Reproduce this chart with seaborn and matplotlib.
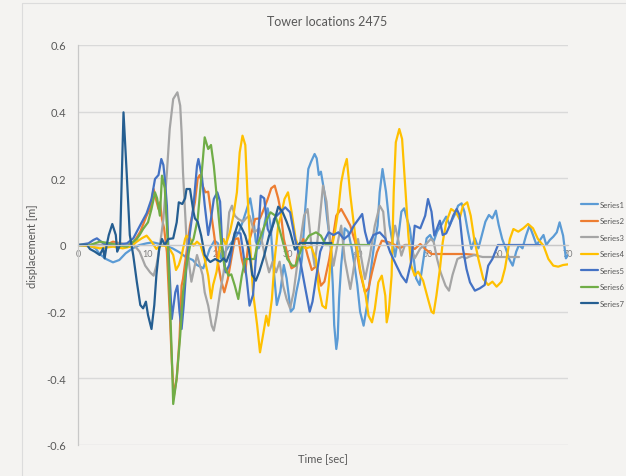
import matplotlib
matplotlib.use("Agg")
import matplotlib.pyplot as plt
from matplotlib import font_manager
import pandas as pd
import seaborn as sns

# (time [s], displacement [m]) samples for each tower record
SERIES1 = [(0, 0), (1.5, 0), (2.5, -0.01), (3.1, -0.027), (4.0, -0.042), (5.0, -0.052), (5.9, -0.045),
           (6.8, -0.025), (7.8, -0.01), (8.8, 0), (9.8, 0.005), (10.7, 0.008), (11.7, 0.003), (12.6, -0.003),
           (13.5, -0.01), (14.5, -0.022), (15.4, -0.036), (16.4, -0.045), (17.0, -0.06), (17.9, -0.07),
           (18.8, -0.012), (19.5, 0.013), (20.0, 0.005), (20.4, -0.04), (20.9, -0.025), (21.6, -0.002),
           (22.3, 0.018), (23.0, 0.04), (23.5, 0.068), (24.0, 0.1), (24.6, 0.14), (25.0, 0.09), (25.4, 0.01),
           (25.8, -0.01), (26.3, 0.018), (26.7, 0.07), (27.1, 0.11), (27.5, 0.06), (27.9, -0.06), (28.4, -0.18),
           (28.9, -0.14), (29.4, -0.06), (29.8, -0.1), (30.4, -0.2), (30.8, -0.19), (31.2, -0.14), (31.6, -0.1),
           (32.0, -0.04), (32.4, 0.09), (32.9, 0.228), (33.3, 0.25), (33.8, 0.273), (34.1, 0.26), (34.4, 0.21),
           (34.7, 0.22), (35.2, 0.158), (35.6, 0.078), (36.1, -0.002), (36.4, -0.12), (36.6, -0.24),
           (36.9, -0.312), (37.1, -0.28), (37.3, -0.16), (37.6, -0.06), (38.1, 0.05), (38.6, 0.04), (39.1, -0.01),
           (39.5, -0.06), (39.9, -0.12), (40.3, -0.2), (40.8, -0.242), (41.3, -0.18), (41.8, -0.082), (42.3, 0.0),
           (42.8, 0.058), (43.1, 0.158), (43.5, 0.228), (44.0, 0.16), (44.5, 0.06), (45.0, 0.0), (45.3, -0.035),
           (45.8, 0.03), (46.2, 0.1), (46.6, 0.11), (47.0, 0.078), (47.4, 0.05), (47.9, -0.03), (48.3, -0.1),
           (48.8, -0.12), (49.3, -0.05), (49.8, 0.02), (50.3, 0.03), (50.8, 0.01), (51.3, 0.04), (51.9, 0.06),
           (52.6, 0.085), (53.1, 0.06), (53.8, 0.09), (54.3, 0.118), (54.8, 0.125), (55.2, 0.1), (55.7, 0.04),
           (56.2, -0.012), (56.7, 0.02), (57.2, -0.01), (57.7, 0.03), (58.2, 0.07), (58.7, 0.09), (59.2, 0.08),
           (59.7, 0.103), (60.1, 0.06), (60.6, 0.018), (61.1, -0.01), (61.6, -0.042), (62.1, -0.062),
           (62.6, -0.02), (63.0, 0.0), (63.5, -0.01), (64.0, 0.028), (64.5, 0.058), (65.0, 0.03), (65.5, 0.0),
           (66.0, 0.015), (66.5, 0.03), (66.9, 0.0), (67.4, 0.015), (67.9, 0.025), (68.4, 0.038), (68.8, 0.068),
           (69.3, 0.028), (69.7, -0.04), (70.0, -0.03)]

SERIES2 = [(0, 0), (4, 0), (5, 0.01), (6, 0.005), (7, 0.0), (8, 0.01), (8.9, 0.04), (9.8, 0.088), (10.3, 0.108),
           (10.8, 0.168), (11.1, 0.14), (11.5, 0.108), (11.7, 0.128), (12.0, 0.078), (12.3, 0.05), (12.7, -0.022),
           (13.1, -0.2), (13.4, -0.35), (13.7, -0.452), (14.1, -0.40), (14.5, -0.282), (14.8, -0.122),
           (15.0, -0.102), (15.5, -0.022), (16.0, 0.058), (16.4, 0.098), (16.7, 0.128), (17.1, 0.2), (17.4, 0.21),
           (17.8, 0.178), (18.2, 0.158), (18.6, 0.16), (19.0, 0.098), (19.4, 0.038), (19.9, -0.042),
           (20.4, -0.102), (20.9, -0.142), (21.4, -0.102), (21.9, -0.042), (22.4, 0.018), (22.9, 0.02),
           (23.4, -0.042), (23.9, -0.082), (24.3, 0.0), (24.8, 0.038), (25.3, 0.078), (26.0, 0.08), (26.6, 0.11),
           (27.1, 0.138), (27.6, 0.17), (28.1, 0.178), (28.6, 0.14), (28.9, 0.108), (29.4, 0.018), (30.0, -0.035),
           (30.5, -0.07), (31.1, -0.062), (31.6, -0.002), (32.2, 0.018), (32.8, -0.032), (33.4, -0.075),
           (34.1, -0.062), (34.7, -0.122), (35.2, -0.11), (35.9, -0.042), (36.4, 0.02), (36.9, 0.088),
           (37.6, 0.108), (38.4, 0.078), (38.9, 0.058), (39.6, 0.008), (40.3, -0.082), (41.0, -0.142),
           (41.5, -0.13), (42.0, -0.082), (42.7, -0.022), (43.4, 0.013), (44.4, 0.008), (45.3, 0.0), (46.0, -0.01),
           (46.7, 0.0), (47.4, 0.0), (48.1, -0.012), (48.9, 0.003), (49.6, -0.012), (50.5, -0.027), (52.0, -0.027),
           (55.3, -0.027), (57.0, -0.03)]

SERIES3 = [(0, 0), (3, 0), (6, 0.005), (8, 0.0), (8.8, -0.02), (9.6, -0.062), (10.3, -0.082), (10.8, -0.092),
           (11.2, -0.062), (11.7, -0.002), (12.2, 0.078), (12.7, 0.218), (13.1, 0.348), (13.6, 0.438),
           (14.2, 0.458), (14.6, 0.418), (14.8, 0.338), (15.0, 0.218), (15.3, 0.098), (15.5, 0.018),
           (15.9, -0.062), (16.2, -0.11), (16.6, -0.07), (17.0, -0.03), (17.4, -0.06), (17.8, -0.09),
           (18.1, -0.142), (18.6, -0.182), (19.1, -0.242), (19.4, -0.257), (19.8, -0.212), (20.3, -0.142),
           (20.8, -0.082), (21.2, -0.002), (21.6, 0.098), (22.0, 0.118), (22.4, 0.088), (22.9, 0.078),
           (23.6, 0.07), (24.0, 0.08), (24.5, 0.088), (25.2, 0.038), (25.9, 0.05), (26.6, -0.022), (27.3, -0.082),
           (27.8, -0.05), (28.3, -0.082), (28.8, -0.05), (29.3, -0.122), (29.8, -0.162), (30.3, -0.19),
           (30.8, -0.142), (31.3, -0.062), (31.8, 0.018), (32.3, 0.088), (32.8, 0.108), (33.3, 0.008),
           (33.8, -0.062), (34.4, 0.05), (35.0, 0.178), (35.5, 0.13), (36.0, 0.008), (36.5, -0.062), (37.2, 0.018),
           (37.6, 0.058), (38.1, -0.042), (38.9, -0.132), (39.3, -0.082), (40.0, 0.018), (40.5, -0.042),
           (41.0, -0.102), (41.7, -0.032), (42.4, 0.058), (43.1, 0.118), (43.6, 0.1), (44.0, 0.008), (44.8, 0.0),
           (45.3, 0.058), (45.7, 0.02), (46.2, -0.032), (46.7, 0.0), (47.4, 0.0), (48.1, -0.04), (48.9, -0.01),
           (49.6, 0.0), (50.4, 0.018), (50.8, 0.01), (51.3, -0.042), (51.8, -0.082), (52.5, -0.122),
           (53.0, -0.137), (53.5, -0.09), (54.2, -0.042), (54.9, -0.035), (55.4, -0.04), (55.9, -0.035),
           (56.6, -0.03), (57.8, -0.036), (63.0, -0.036)]

SERIES4 = [(0, 0), (2, -0.005), (3.1, -0.01), (5.0, -0.005), (6.4, -0.01), (7.5, -0.005), (8.4, 0.01),
           (9.1, 0.02), (9.8, 0.028), (10.5, 0.01), (11.2, -0.012), (11.7, -0.002), (12.4, -0.002),
           (13.1, -0.012), (13.6, -0.03), (14.0, -0.075), (14.4, -0.06), (14.8, -0.032), (15.3, 0.018),
           (15.5, 0.028), (16.0, 0.02), (16.5, -0.002), (17.0, 0.01), (17.5, 0.0), (18.1, -0.042), (18.6, -0.092),
           (19.0, -0.16), (19.3, -0.12), (19.8, -0.08), (20.3, -0.002), (20.8, 0.018), (21.1, 0.0), (21.7, 0.038),
           (22.2, 0.088), (22.7, 0.158), (23.1, 0.278), (23.5, 0.328), (23.9, 0.3), (24.2, 0.158), (24.6, -0.002),
           (25.0, -0.142), (25.6, -0.242), (26.0, -0.322), (26.5, -0.262), (26.9, -0.212), (27.2, -0.242),
           (27.7, -0.162), (28.1, -0.042), (28.6, 0.058), (29.0, 0.088), (29.5, 0.138), (30.0, 0.158),
           (30.5, 0.1), (31.1, 0.018), (31.6, -0.012), (32.1, -0.005), (32.6, -0.01), (33.3, -0.005),
           (34.0, -0.042), (34.4, -0.132), (34.9, -0.182), (35.4, -0.19), (35.8, -0.122), (36.2, -0.012),
           (36.7, 0.038), (37.2, 0.108), (37.6, 0.188), (38.0, 0.23), (38.4, 0.258), (38.9, 0.15), (39.6, 0.028),
           (40.3, -0.072), (41.1, -0.152), (41.5, -0.212), (42.0, -0.232), (42.4, -0.192), (42.9, -0.112),
           (43.4, -0.092), (43.9, -0.152), (44.1, -0.232), (44.4, -0.2), (44.8, -0.092), (45.1, 0.158),
           (45.4, 0.308), (45.9, 0.348), (46.3, 0.318), (46.8, 0.158), (47.2, 0.028), (47.6, -0.062),
           (48.1, -0.092), (48.6, -0.08), (49.3, -0.107), (50.0, -0.162), (50.5, -0.2), (50.8, -0.205),
           (51.2, -0.152), (51.7, -0.072), (52.1, 0.008), (52.6, 0.068), (53.3, 0.108), (54.0, 0.098),
           (54.5, 0.078), (55.0, 0.118), (55.6, 0.128), (56.1, 0.088), (56.6, 0.018), (57.2, -0.042),
           (57.9, -0.102), (58.6, -0.12), (59.2, -0.11), (59.8, -0.125), (60.5, -0.11), (61.0, -0.07),
           (61.7, 0.018), (62.2, 0.048), (62.9, 0.04), (63.6, 0.05), (64.3, 0.063), (65.0, 0.05), (65.7, 0.018),
           (66.5, -0.002), (67.2, -0.042), (67.9, -0.062), (68.6, -0.065), (69.3, -0.06), (70.0, -0.058)]

SERIES5 = [(0, 0), (1.5, 0.005), (2.2, 0.015), (2.7, 0.02), (3.3, 0.01), (4.0, 0.0), (5.5, 0.0), (7.0, 0.005),
           (7.9, 0.02), (8.9, 0.06), (9.8, 0.095), (10.5, 0.138), (11.0, 0.198), (11.5, 0.21), (11.9, 0.258),
           (12.2, 0.24), (12.4, 0.2), (12.7, 0.118), (12.9, -0.002), (13.4, -0.222), (13.9, -0.142),
           (14.2, -0.122), (14.5, -0.2), (14.8, -0.252), (15.1, -0.182), (15.5, -0.062), (16.0, 0.038),
           (16.5, 0.118), (17.0, 0.238), (17.2, 0.258), (17.7, 0.205), (18.1, 0.12), (18.6, 0.03), (19.0, 0.078),
           (19.4, 0.138), (19.9, 0.158), (20.3, 0.13), (20.6, -0.002), (21.1, -0.082), (21.6, -0.06),
           (22.0, -0.01), (22.4, 0.038), (23.2, 0.035), (23.6, -0.022), (24.1, -0.102), (24.5, -0.182),
           (25.0, -0.15), (25.4, -0.042), (25.9, 0.078), (26.1, 0.148), (26.6, 0.14), (27.1, 0.048), (27.5, 0.03),
           (28.0, 0.078), (28.5, 0.09), (29.0, 0.1), (29.6, 0.113), (30.3, 0.098), (31.0, 0.018), (31.7, -0.042),
           (32.4, -0.122), (33.1, -0.2), (33.5, -0.17), (34.0, -0.1), (34.6, -0.02), (35.3, 0.018), (35.8, 0.038),
           (36.5, 0.03), (37.2, 0.038), (38.0, 0.018), (38.7, 0.03), (39.4, 0.058), (40.1, 0.078), (40.6, 0.093),
           (41.0, 0.04), (41.5, 0.0), (42.2, 0.03), (43.1, 0.038), (43.9, 0.02), (44.6, -0.022), (45.5, -0.062),
           (46.2, -0.092), (46.9, -0.112), (47.6, -0.05), (48.1, 0.058), (48.9, 0.05), (49.6, 0.088),
           (50.0, 0.138), (50.5, 0.1), (50.9, 0.028), (51.7, 0.073), (52.1, 0.03), (52.6, 0.035), (53.1, 0.058),
           (53.6, 0.088), (54.1, 0.108), (54.5, 0.09), (55.0, -0.012), (55.5, -0.072), (56.0, -0.112),
           (56.7, -0.137), (57.4, -0.13), (58.1, -0.12), (58.6, -0.062), (59.2, -0.042), (60.0, 0.0), (66.0, 0.0)]

SERIES6 = [(0, 0), (1.7, 0.0), (3.1, 0.01), (4.6, 0.005), (5.5, 0.0), (7.0, -0.005), (8.4, 0.018), (8.8, 0.03),
           (9.3, 0.048), (10.0, 0.068), (10.5, 0.108), (11.0, 0.158), (11.3, 0.14), (11.7, 0.088), (12.0, 0.208),
           (12.4, 0.17), (12.8, 0.018), (13.1, -0.152), (13.4, -0.332), (13.6, -0.477), (14.1, -0.40),
           (14.6, -0.272), (15.0, -0.142), (15.5, -0.062), (16.0, -0.002), (16.5, 0.018), (17.1, 0.078),
           (17.6, 0.198), (18.1, 0.323), (18.6, 0.288), (18.8, 0.294), (19.0, 0.3), (19.4, 0.238), (19.9, 0.128),
           (20.4, 0.018), (20.9, -0.062), (21.5, -0.092), (21.9, -0.088), (22.4, -0.122), (22.9, -0.162),
           (23.4, -0.092), (23.9, -0.042), (24.7, -0.042), (25.2, -0.042), (25.6, -0.002), (26.3, 0.038),
           (27.0, 0.078), (27.5, 0.098), (28.2, 0.088), (28.9, 0.038), (29.4, -0.002), (29.9, -0.042),
           (30.6, -0.062), (31.1, -0.062), (31.6, -0.03), (32.1, -0.002), (33.0, 0.028), (34.0, 0.038),
           (34.7, 0.028), (35.4, 0.0), (41.6, 0.0)]

SERIES7 = [(0, 0), (1.3, 0), (1.7, -0.012), (2.4, -0.02), (3.1, -0.03), (3.6, -0.01), (3.8, -0.04), (4.1, 0.0),
           (4.4, 0.03), (4.9, 0.063), (5.4, 0.03), (5.6, -0.02), (6.0, 0.0), (6.5, 0.398), (6.95, 0.218),
           (7.4, 0.03), (7.9, -0.032), (8.4, -0.11), (8.9, -0.18), (9.3, -0.19), (9.7, -0.17), (10.0, -0.21),
           (10.5, -0.252), (10.9, -0.18), (11.2, -0.09), (11.6, -0.01), (12.0, 0.018), (12.4, 0.0), (12.9, 0.018),
           (13.6, 0.02), (14.1, 0.068), (14.4, 0.128), (14.9, 0.123), (15.3, 0.14), (15.5, 0.168), (16.0, 0.168),
           (16.2, 0.14), (16.5, 0.099), (16.7, 0.08), (17.1, 0.07), (17.6, 0.028), (18.1, -0.03), (18.6, -0.045),
           (18.9, -0.051), (19.6, -0.042), (20.3, -0.05), (20.8, -0.04), (21.2, -0.05), (21.8, -0.017),
           (22.3, 0.028), (22.9, 0.068), (23.4, 0.05), (23.9, 0.028), (24.4, -0.012), (24.9, -0.09),
           (25.4, -0.107), (25.9, -0.08), (26.6, -0.032), (27.3, 0.028), (28.0, 0.068), (28.6, 0.115),
           (29.2, 0.1), (29.8, 0.07), (30.3, 0.04), (31.0, -0.014), (31.7, 0.006), (36.2, 0.006)]

NAMES = ["Series1", "Series2", "Series3", "Series4", "Series5", "Series6", "Series7"]
COLORS = ["#5B9BD5", "#ED7D31", "#A5A5A5", "#FFC000", "#4472C4", "#70AD47", "#255E91"]
X_TICKS = [0, 10, 20, 30, 40, 50, 60, 70]
Y_TICKS = [-0.6, -0.4, -0.2, 0, 0.2, 0.4, 0.6]
Y_TICK_LABELS = ["-0.6", "-0.4", "-0.2", "0", "0.2", "0.4", "0.6"]
TITLE = "Tower locations 2475"
X_LABEL = "Time [sec]"
Y_LABEL = "displacement [m]"

sns.set_theme(style="white")
plt.rcParams["font.family"] = ["Lato", "DejaVu Sans"]

# a narrow face keeps the legend labels inside the right edge
_installed = {f.name for f in font_manager.fontManager.ttflist}
if "Liberation Sans Narrow" in _installed:
    LEGEND_FONT, LEGEND_SIZE = ["Liberation Sans Narrow", "DejaVu Sans"], 6.3
else:
    LEGEND_FONT, LEGEND_SIZE = ["Lato", "DejaVu Sans"], 5.6

BG = "#f4f3f1"
TEXT = "#595959"
GRID = "#d9d9d9"

W, H = 626, 477
fig = plt.figure(figsize=(W / 100, H / 100), dpi=100, facecolor=BG)
ax = fig.add_axes([78 / W, 1 - 446 / H, 490 / W, 400 / H])
ax.set_facecolor(BG)

frames = []
for name, pts in zip(NAMES, [SERIES1, SERIES2, SERIES3, SERIES4, SERIES5, SERIES6, SERIES7]):
    t, v = zip(*pts)
    frames.append(pd.DataFrame({"time": t, "disp": v, "series": name}))
df = pd.concat(frames, ignore_index=True)

sns.lineplot(data=df, x="time", y="disp", hue="series", hue_order=NAMES, palette=COLORS,
             estimator=None, linewidth=1.6, ax=ax, legend=True)

ax.set_xlim(0, 70)
ax.set_ylim(-0.6, 0.6)
ax.set_axisbelow(True)
ax.set_yticks(Y_TICKS)
ax.set_yticklabels(Y_TICK_LABELS)
ax.set_xticks(X_TICKS)
ax.set_xticklabels([str(x) for x in X_TICKS])
ax.yaxis.grid(True, color=GRID, linewidth=1.0)
ax.xaxis.grid(False)

for side in ("top", "right"):
    ax.spines[side].set_visible(False)
ax.spines["left"].set_color("#c8c8c8")
ax.spines["left"].set_linewidth(0.9)
ax.spines["bottom"].set_position(("data", 0))
ax.spines["bottom"].set_color("#c8c8c8")
ax.spines["bottom"].set_linewidth(0.9)

ax.tick_params(axis="y", length=0, pad=8.5, labelsize=8, labelcolor=TEXT)
ax.tick_params(axis="x", length=0, pad=3, labelsize=6.5, labelcolor="#7f7f7f")

ax.set_xlabel(X_LABEL, fontsize=8, color=TEXT)
ax.xaxis.set_label_coords(0.5, -0.018)
ax.set_ylabel(Y_LABEL, fontsize=8, color=TEXT)
ax.yaxis.set_label_coords(-0.082, 0.5)

fig.text(327 / W, 1 - 22 / H, TITLE, ha="center", va="center", fontsize=9, color=TEXT)

handles, labels = ax.get_legend_handles_labels()
ax.get_legend().remove()
leg = fig.legend(handles, labels, loc="upper left", bbox_to_anchor=(581 / W, 1 - 202 / H),
                 frameon=False, prop={"family": LEGEND_FONT, "size": LEGEND_SIZE},
                 handlelength=2.2, handletextpad=0.15, labelspacing=1.22,
                 borderpad=0, borderaxespad=0)
for txt in leg.get_texts():
    txt.set_color(TEXT)

# chart-area frame along the top and left edges
fig.add_artist(plt.Line2D([22 / W, 1], [1 - 4 / H, 1 - 4 / H], color="#dcdcdc", linewidth=0.8))
fig.add_artist(plt.Line2D([22 / W, 22 / W], [0, 1 - 4 / H], color="#dcdcdc", linewidth=0.8))

fig.savefig("out.png", dpi=100, facecolor=BG)
